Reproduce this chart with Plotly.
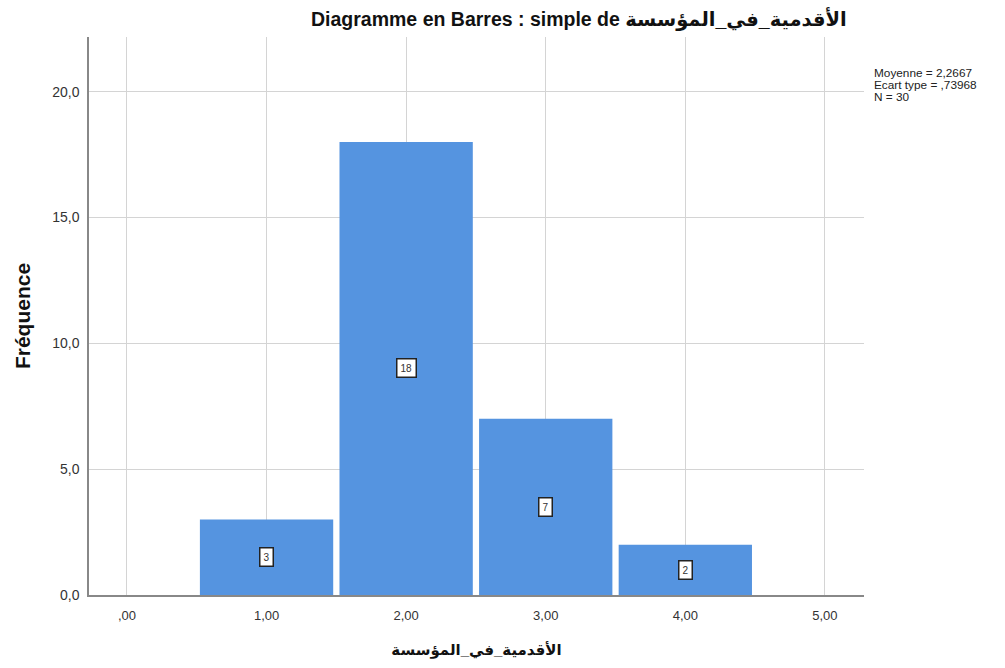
import plotly.graph_objects as go

categories = [1, 2, 3, 4]
counts = [3, 18, 7, 2]
x_tick_vals = [0, 1, 2, 3, 4, 5]
x_tick_text = [",00", "1,00", "2,00", "3,00", "4,00", "5,00"]
y_tick_vals = [0, 5, 10, 15, 20]
y_tick_text = ["0,0", "5,0", "10,0", "15,0", "20,0"]
var_name = "الأقدمية_في_المؤسسة"
stats_lines = ["Moyenne = 2,2667", "Ecart type = ,73968", "N = 30"]

FONT = "Liberation Sans, Arial, DejaVu Sans, sans-serif"
BLUE = "#5594e0"

W, H = 1005, 668
L, R, T, B = 89, 141, 37, 70
PW, PH = W - L - R, H - T - B


def px(x):
    return (x - L) / PW


def py(y):
    return (H - B - y) / PH


fig = go.Figure()
fig.add_trace(go.Bar(
    x=categories, y=counts, width=0.955,
    marker=dict(color=BLUE, line=dict(width=0)),
    hoverinfo="skip",
))

for c, v in zip(categories, counts):
    fig.add_annotation(
        x=c, y=v / 2, xref="x", yref="y", text=str(v), showarrow=False,
        font=dict(family=FONT, size=10, color="#333333"),
        bgcolor="white", bordercolor="#222222", borderwidth=1.5, borderpad=3,
    )

fig.add_annotation(
    x=px(579), y=py(18), xref="paper", yref="paper",
    xanchor="center", yanchor="middle",
    text="<b>Diagramme en Barres : simple de " + var_name + "</b>",
    showarrow=False, font=dict(family=FONT, size=19.5, color="#111111"),
)

for i, line in enumerate(stats_lines):
    fig.add_annotation(
        x=px(872), y=py(73 + 12.3 * i), xref="paper", yref="paper", text=line,
        showarrow=False, align="left", xanchor="left", yanchor="middle",
        font=dict(family=FONT, size=11.8, color="#222222"),
    )

fig.update_layout(
    width=W, height=H,
    margin=dict(l=L, r=R, t=T, b=B),
    paper_bgcolor="white", plot_bgcolor="white",
    showlegend=False,
    font=dict(family=FONT, color="#333333"),
    xaxis=dict(
        range=[-0.272, 5.28], tickmode="array", tickvals=x_tick_vals, ticktext=x_tick_text,
        showgrid=True, gridcolor="#d4d4d4", gridwidth=1,
        showline=True, linecolor="#888888", linewidth=1.5,
        ticks="", ticklabelstandoff=8, zeroline=False,
        tickfont=dict(family=FONT, size=13, color="#333333"),
        title=dict(text="<b>" + var_name + "</b>", font=dict(family=FONT, size=15, color="#111111"), standoff=22),
    ),
    yaxis=dict(
        range=[0, 22.17], tickmode="array", tickvals=y_tick_vals, ticktext=y_tick_text,
        showgrid=True, gridcolor="#d4d4d4", gridwidth=1,
        showline=True, linecolor="#888888", linewidth=1.5,
        ticks="", ticklabelstandoff=5, zeroline=False,
        tickfont=dict(family=FONT, size=14, color="#333333"),
        title=dict(text="<b>Fréquence</b>", font=dict(family=FONT, size=21, color="#111111"), standoff=16),
    ),
)

fig.write_html("out.html", config={"displayModeBar": False},
               post_script="document.body.style.margin='0';")
